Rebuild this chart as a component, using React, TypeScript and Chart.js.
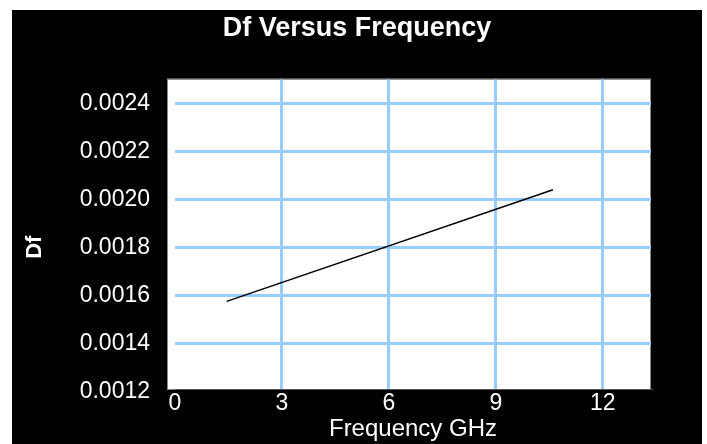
import React, { useEffect, useRef } from "react";
import { Chart, registerables } from "chart.js";

Chart.register(...registerables);

const frequencyGHz = [1.45, 10.6];
const dfValues = [0.001575, 0.00204];
const xTicks = [0, 3, 6, 9, 12];
const yTicks = [0.0012, 0.0014, 0.0016, 0.0018, 0.002, 0.0022, 0.0024];

const FONT = "'Liberation Sans', Arial, sans-serif";

const plotBg = {
  id: "plotBg",
  beforeDraw(chart: any) {
    const { ctx, chartArea } = chart;
    const { left, top, right, bottom } = chartArea;
    ctx.save();
    ctx.fillStyle = "#ffffff";
    ctx.fillRect(left - 7, top, right - left + 7, bottom - top + 1);
    ctx.strokeStyle = "#888888";
    ctx.lineWidth = 1;
    ctx.strokeRect(left - 7.5, top - 0.5, right - left + 7, bottom - top + 1);
    ctx.restore();
  },
  afterDraw(chart: any) {
    const { ctx, chartArea } = chart;
    ctx.save();
    ctx.translate(23, (chartArea.top + chartArea.bottom) / 2 + 13);
    ctx.rotate(-Math.PI / 2);
    ctx.fillStyle = "#ffffff";
    ctx.font = `bold 22px ${FONT}`;
    ctx.textAlign = "center";
    ctx.textBaseline = "middle";
    ctx.fillText("Df", 0, 0);
    ctx.restore();
  },
};

export default function App() {
  const ref = useRef<HTMLCanvasElement | null>(null);
  useEffect(() => {
    if (!ref.current) return;
    const chart = new Chart(ref.current, {
      type: "line",
      data: {
        datasets: [
          {
            data: frequencyGHz.map((x, i) => ({ x, y: dfValues[i] })),
            borderColor: "#000000",
            borderWidth: 1.5,
            pointRadius: 0,
            fill: false,
          },
        ],
      },
      plugins: [plotBg],
      options: {
        animation: false,
        responsive: true,
        maintainAspectRatio: false,
        layout: { padding: 0 },
        plugins: {
          legend: { display: false },
          tooltip: { enabled: false },
          title: {
            display: true,
            text: "Df Versus Frequency",
            color: "#ffffff",
            font: { family: FONT, size: 27, weight: "bold" },
            padding: { top: 2, bottom: 35 },
          },
        },
        scales: {
          x: {
            type: "linear",
            min: 0,
            max: 13.35,
            afterBuildTicks: (s: any) => {
              s.ticks = xTicks.map((v) => ({ value: v }));
            },
            afterFit: (s: any) => {
              s.height = 55;
            },
            ticks: {
              color: "#ffffff",
              font: { family: FONT, size: 23 },
              padding: 1,
              maxRotation: 0,
              autoSkip: false,
            },
            grid: {
              color: (c: any) => (c.tick && c.tick.value === 0 ? "rgba(0,0,0,0)" : "#99ccff"),
              lineWidth: 3,
              drawTicks: false,
            },
            border: { display: true, color: "#555555", width: 1 },
            title: {
              display: true,
              text: "Frequency GHz",
              color: "#ffffff",
              font: { family: FONT, size: 24 },
              padding: { top: 0, bottom: 0 },
            },
          },
          y: {
            type: "linear",
            min: 0.00121,
            max: 0.0025,
            afterBuildTicks: (s: any) => {
              s.ticks = yTicks.map((v) => ({ value: v }));
            },
            afterFit: (s: any) => {
              s.width = 163;
            },
            ticks: {
              color: "#ffffff",
              font: { family: FONT, size: 23 },
              padding: 25,
              callback: (v: any) => Number(v).toFixed(4),
            },
            grid: {
              color: (c: any) =>
                c.tick && Math.abs(c.tick.value - 0.0012) < 1e-9 ? "rgba(0,0,0,0)" : "#99ccff",
              lineWidth: 3,
              drawTicks: false,
            },
            border: { display: false },
          },
          yRight: {
            type: "linear",
            position: "right",
            display: true,
            afterFit: (s: any) => {
              s.width = 51;
            },
            ticks: { display: false },
            grid: { display: false, drawOnChartArea: false },
            border: { display: false },
          },
        },
      },
    } as any);
    return () => chart.destroy();
  }, []);
  return (
    <div
      style={{
        position: "absolute",
        left: 12,
        top: 10,
        width: 690,
        height: 434,
        background: "#000000",
      }}
    >
      <canvas ref={ref} />
    </div>
  );
}
